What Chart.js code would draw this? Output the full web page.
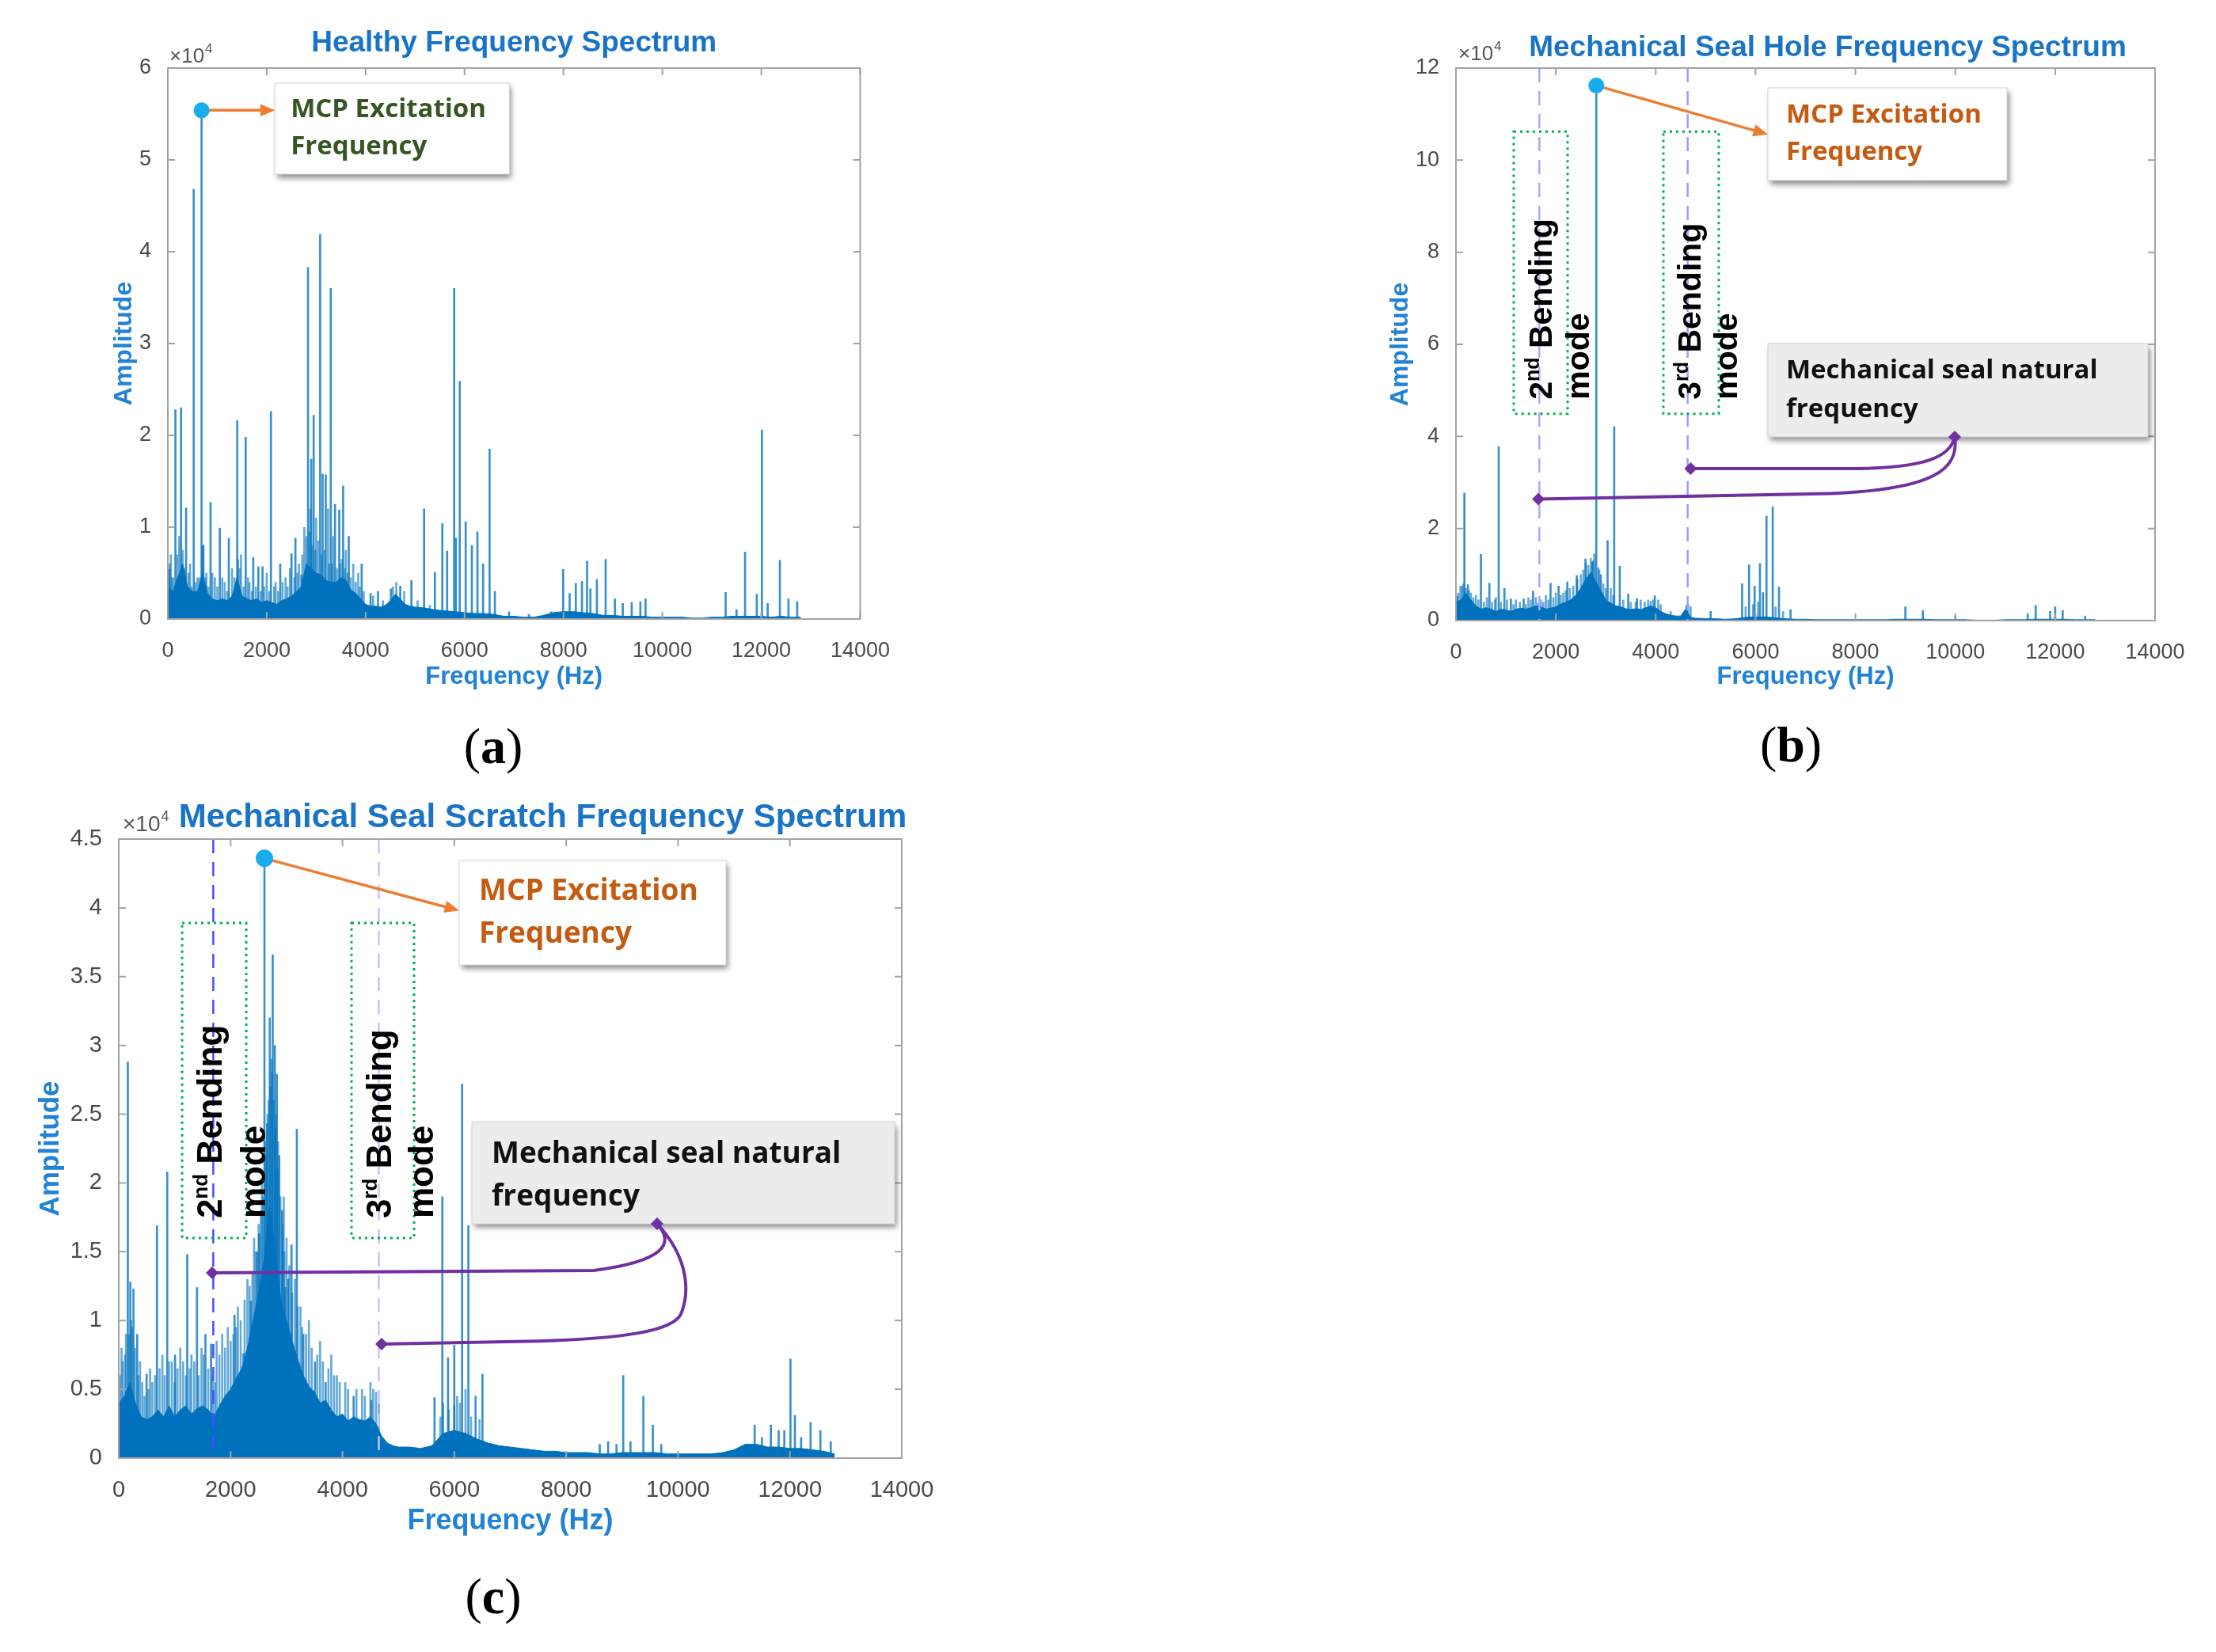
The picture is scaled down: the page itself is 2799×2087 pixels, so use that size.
<!DOCTYPE html>
<html>
<head>
<meta charset="utf-8">
<script src="https://cdn.jsdelivr.net/npm/chart.js@4.4.0/dist/chart.umd.min.js"></script>
<style>
  body { margin: 0; background: #fff; width: 2799px; height: 2087px; position: relative; overflow: hidden; }
  canvas { position: absolute; }
  .tag { position: absolute; transform: translate(-50%, -50%); font-family: "Liberation Serif", "DejaVu Serif", serif; font-size: 64px; color: #000; }
</style>
</head>
<body>
<canvas id="chartA"></canvas>
<canvas id="chartB"></canvas>
<canvas id="chartC"></canvas>
<div class="tag" style="left:623px;top:943px">(<b>a</b>)</div>
<div class="tag" style="left:2262px;top:941px">(<b>b</b>)</div>
<div class="tag" style="left:623px;top:2017px">(<b>c</b>)</div>
<script>
// ---- data (amplitudes in units of 10^4) ----
const xTicks = [0, 2000, 4000, 6000, 8000, 10000, 12000, 14000];
const yTicksA = [0, 1, 2, 3, 4, 5, 6];
const yTicksB = [0, 2, 4, 6, 8, 10, 12];
const yTicksC = [0, 0.5, 1, 1.5, 2, 2.5, 3, 3.5, 4, 4.5];

// frequencies (Hz) of the broadband floor, shared by the three spectra
const floorFreq = [0, 100, 200, 300, 400, 500, 600, 700, 800, 900,
  1000, 1100, 1200, 1300, 1400, 1500, 1600, 1700, 1800, 1900,
  2000, 2100, 2200, 2300, 2400, 2500, 2600, 2700, 2800, 2900,
  3000, 3100, 3200, 3300, 3400, 3500, 3600, 3700, 3800, 3900,
  4000, 4100, 4200, 4300, 4400, 4500, 4600, 4700, 4800, 4900,
  5000, 5200, 5400, 5600, 5800, 6000, 6200, 6400, 6600, 6800,
  7000, 7200, 7400, 7600, 7800, 8000, 8200, 8400, 8600, 8800,
  9000, 9200, 9400, 9600, 9800, 10000, 10200, 10400, 10600, 10800,
  11000, 11200, 11400, 11600, 11800, 12000, 12200, 12400, 12600, 12800];

// (a) healthy
const floorA = [0.35, 0.3, 0.45, 0.6, 0.35, 0.3, 0.3, 0.5, 0.28, 0.22,
  0.2, 0.22, 0.2, 0.25, 0.45, 0.25, 0.22, 0.2, 0.22, 0.18,
  0.2, 0.18, 0.16, 0.2, 0.22, 0.25, 0.3, 0.35, 0.6, 0.55,
  0.5, 0.48, 0.42, 0.4, 0.4, 0.45, 0.42, 0.32, 0.28, 0.22,
  0.16, 0.14, 0.14, 0.13, 0.15, 0.2, 0.27, 0.22, 0.16, 0.14,
  0.13, 0.12, 0.1, 0.09, 0.08, 0.07, 0.06, 0.06, 0.05, 0.03,
  0.03, 0.02, 0.02, 0.04, 0.07, 0.08, 0.08, 0.07, 0.06, 0.04,
  0.04, 0.03, 0.03, 0.03, 0.02, 0.02, 0.02, 0.02, 0.01, 0.01,
  0.02, 0.02, 0.03, 0.03, 0.03, 0.03, 0.02, 0.03, 0.02, 0.02];
const spikeFreqA = [23, 153, 267, 369, 523, 682, 720, 864, 1051, 1233, 1403, 1574, 1727, 1830, 1915,
  2085, 2273, 2500, 2580, 2700, 2835, 2900, 2949, 3080, 3130, 3193, 3295, 3380, 3466, 3545,
  3659, 3920, 4100, 4250, 4511, 4700, 4926, 5182, 5400, 5551, 5648, 5790, 5826, 5903, 6023,
  6148, 6261, 6375, 6506, 6614, 6900, 7300, 7750, 7994, 8125, 8250, 8375, 8477, 8545, 8676,
  8853, 9040, 9200, 9380, 9555, 9660, 11280, 11500, 11673, 11910, 12014, 12130, 12376, 12550, 12727];
const spikeAmpA = [0.54, 2.28, 2.3, 1.21, 4.68, 5.54, 0.8, 1.27, 0.99, 0.88, 2.16, 1.98, 0.67, 0.57, 0.57,
  2.26, 0.6, 0.71, 0.88, 0.48, 3.83, 1.74, 2.22, 4.19, 1.58, 1.57, 3.6, 1.25, 1.19, 1.45,
  0.9, 0.6, 0.28, 0.3, 0.33, 0.36, 0.42, 1.2, 0.51, 1.04, 0.74, 3.6, 0.88, 2.59, 1.06,
  0.8, 0.95, 0.6, 1.85, 0.3, 0.08, 0.05, 0.08, 0.54, 0.28, 0.39, 0.41, 0.63, 0.33, 0.43,
  0.65, 0.22, 0.17, 0.18, 0.19, 0.22, 0.29, 0.1, 0.73, 0.27, 2.06, 0.17, 0.64, 0.22, 0.19];
const grassFreqA = [40, 60, 80, 110, 190, 230, 300, 330, 420, 450, 480, 560, 600, 640, 700, 760, 780, 820,
  900, 950, 1000, 1100, 1150, 1200, 1300, 1350, 1420, 1450, 1480, 1530, 1620, 1650, 1700, 1780, 1880, 1950,
  2000, 2050, 2150, 2180, 2230, 2320, 2380, 2420, 2470, 2560, 2620, 2650, 2720, 2760, 2800, 2860, 2880, 2920,
  2980, 3000, 3040, 3110, 3170, 3240, 3260, 3320, 3340, 3420, 3480, 3520, 3580, 3600, 3640, 3700, 3750, 3800,
  3850, 3880, 3960, 4150, 4350, 4550, 4620, 4780, 5050, 5300];
const grassAmpA = [0.6, 0.7, 0.45, 0.45, 0.7, 0.9, 0.75, 0.55, 0.5, 0.6, 0.35, 0.4, 0.45, 0.45, 0.8, 0.45, 0.5, 0.35,
  0.5, 0.45, 0.35, 0.45, 0.4, 0.3, 0.55, 0.45, 0.65, 0.55, 0.7, 0.35, 0.45, 0.4, 0.3, 0.35, 0.3, 0.35,
  0.5, 0.3, 0.35, 0.4, 0.3, 0.4, 0.45, 0.35, 0.55, 0.45, 0.5, 0.6, 0.7, 1.0, 0.9, 0.95, 1.2, 0.8,
  0.75, 1.1, 0.85, 0.7, 0.75, 1.2, 0.6, 0.6, 0.9, 0.55, 0.6, 0.65, 0.55, 0.75, 0.5, 0.45, 0.6, 0.4,
  0.5, 0.35, 0.3, 0.25, 0.2, 0.35, 0.4, 0.3, 0.2, 0.15];
const peakIndexA = 5;

// (b) mechanical seal hole
const floorB = [0.4, 0.45, 0.6, 0.45, 0.32, 0.25, 0.28, 0.25, 0.2, 0.25,
  0.23, 0.2, 0.25, 0.27, 0.25, 0.28, 0.32, 0.3, 0.25, 0.27,
  0.3, 0.36, 0.4, 0.45, 0.55, 0.7, 0.9, 1.05, 0.85, 0.65,
  0.45, 0.38, 0.32, 0.3, 0.26, 0.24, 0.26, 0.24, 0.28, 0.32,
  0.28, 0.2, 0.15, 0.12, 0.1, 0.1, 0.25, 0.07, 0.05, 0.05,
  0.04, 0.04, 0.03, 0.04, 0.07, 0.08, 0.08, 0.06, 0.04, 0.03,
  0.03, 0.02, 0.02, 0.02, 0.02, 0.02, 0.02, 0.02, 0.02, 0.03,
  0.03, 0.03, 0.03, 0.02, 0.02, 0.02, 0.02, 0.01, 0.01, 0.01,
  0.02, 0.02, 0.02, 0.03, 0.03, 0.03, 0.03, 0.02, 0.02, 0.02];
const spikeFreqB = [25, 169, 240, 500, 669, 856, 970, 1100, 1356, 1545, 1650, 1894, 2056, 2231, 2419,
  2594, 2731, 2810, 2900, 3037, 3169, 3281, 3450, 3625, 3981, 4619, 5100, 5731, 5869, 5981,
  6088, 6150, 6219, 6344, 6469, 6700, 9000, 9350, 10000, 11450, 11610, 11900, 12000, 12150, 12600];
const spikeAmpB = [0.53, 2.77, 0.78, 1.44, 0.81, 3.78, 0.7, 0.47, 0.47, 0.64, 0.38, 0.81, 0.75, 0.84, 0.98,
  1.34, 1.27, 11.62, 1.0, 1.74, 4.21, 1.18, 0.58, 0.48, 0.54, 0.33, 0.2, 0.8, 1.21, 0.75,
  1.24, 0.61, 2.27, 2.47, 0.73, 0.24, 0.3, 0.22, 0.1, 0.15, 0.33, 0.2, 0.3, 0.22, 0.1];
const grassFreqB = [50, 90, 120, 150, 200, 260, 300, 350, 400, 450, 560, 620, 720, 780, 800, 900, 1020, 1150,
  1200, 1280, 1400, 1450, 1500, 1600, 1700, 1750, 1800, 1850, 1950, 2000, 2100, 2150, 2200, 2280, 2350, 2430,
  2500, 2550, 2600, 2650, 2700, 2750, 2770, 2850, 2870, 2950, 3000, 3100, 3150, 3350, 3500, 3600, 3700, 3780,
  3850, 3900, 3950, 4050, 4100, 4300, 4650, 4700, 5800, 5950, 6050, 6400, 6550];
const grassAmpB = [0.6, 0.75, 0.75, 0.8, 0.7, 0.65, 0.6, 0.5, 0.55, 0.45, 0.4, 0.5, 0.4, 0.45, 0.5, 0.4, 0.45, 0.35,
  0.45, 0.4, 0.35, 0.5, 0.45, 0.5, 0.45, 0.4, 0.55, 0.45, 0.5, 0.6, 0.55, 0.6, 0.65, 0.7, 0.75, 0.9,
  1.0, 1.1, 1.25, 1.2, 1.35, 1.3, 1.45, 1.15, 1.1, 0.8, 0.7, 0.7, 0.55, 0.45, 0.4, 0.4, 0.45, 0.4,
  0.45, 0.42, 0.45, 0.45, 0.35, 0.2, 0.35, 0.3, 0.3, 0.35, 0.4, 0.3, 0.2];
const peakIndexB = 17;

// (c) mechanical seal scratch
const floorC = [0.4, 0.45, 0.55, 0.4, 0.3, 0.28, 0.3, 0.35, 0.3, 0.38,
  0.3, 0.35, 0.38, 0.32, 0.36, 0.38, 0.35, 0.3, 0.38, 0.45,
  0.5, 0.58, 0.65, 0.8, 1.0, 1.2, 1.45, 1.85, 1.5, 1.15,
  1.0, 0.85, 0.72, 0.6, 0.52, 0.48, 0.4, 0.42, 0.35, 0.3,
  0.32, 0.27, 0.3, 0.28, 0.27, 0.3, 0.25, 0.16, 0.11, 0.09,
  0.08, 0.08, 0.07, 0.09, 0.18, 0.2, 0.18, 0.14, 0.11, 0.09,
  0.08, 0.07, 0.06, 0.05, 0.05, 0.04, 0.04, 0.04, 0.03, 0.03,
  0.04, 0.04, 0.04, 0.04, 0.03, 0.03, 0.03, 0.03, 0.03, 0.04,
  0.06, 0.1, 0.1, 0.08, 0.08, 0.07, 0.07, 0.06, 0.05, 0.03];
const spikeFreqC = [30, 95, 162, 207, 263, 330, 498, 683, 867, 1007, 1225, 1399, 1550, 1650, 2070,
  2230, 2361, 2473, 2512, 2605, 2652, 2700, 2753, 2790, 2826, 2870, 2920, 2977, 3030, 3089,
  3184, 3300, 3509, 3700, 4200, 4516, 5646, 5786, 5887, 5999, 6139, 6251, 6380, 6503, 8600,
  8750, 8900, 9020, 9150, 9380, 9550, 9700, 11370, 11500, 11660, 11800, 11900, 12010, 12090, 12200,
  12370, 12545, 12730];
const spikeAmpC = [0.35, 0.37, 2.88, 1.28, 1.23, 0.9, 0.61, 1.69, 2.08, 0.75, 1.48, 1.24, 0.9, 0.83, 1.04,
  0.76, 1.14, 1.5, 1.63, 4.36, 2.43, 3.2, 3.66, 3.0, 2.79, 2.2, 1.8, 1.24, 1.3, 1.55,
  2.39, 0.9, 0.7, 0.55, 0.45, 0.42, 0.44, 1.9, 0.73, 0.82, 2.72, 1.69, 0.45, 0.61, 0.1,
  0.12, 0.1, 0.6, 0.12, 0.45, 0.24, 0.1, 0.24, 0.15, 0.24, 0.2, 0.2, 0.72, 0.31, 0.15,
  0.26, 0.2, 0.12];
const grassFreqC = [20, 50, 70, 110, 130, 180, 220, 240, 290, 350, 380, 420, 460, 530, 560, 600, 650, 730,
  780, 820, 900, 950, 1000, 1050, 1100, 1150, 1200, 1270, 1300, 1350, 1430, 1480, 1520, 1600, 1680, 1720,
  1750, 1800, 1850, 1900, 1950, 2000, 2050, 2100, 2130, 2180, 2250, 2300, 2340, 2390, 2420, 2450, 2500, 2540,
  2560, 2580, 2620, 2640, 2660, 2680, 2710, 2730, 2740, 2770, 2800, 2810, 2840, 2850, 2890, 2930, 2950, 2960,
  3000, 3050, 3100, 3150, 3200, 3250, 3280, 3350, 3400, 3450, 3550, 3600, 3650, 3750, 3800, 3850, 3900, 3950,
  4050, 4100, 4250, 4350, 4400, 4500, 4550, 4600, 4650, 5750, 5800, 5900, 6000, 6050, 6100, 6200, 6300, 6450];
const grassAmpC = [0.6, 0.8, 0.7, 0.75, 0.9, 0.9, 1.0, 0.95, 0.8, 0.6, 0.7, 0.55, 0.45, 0.5, 0.65, 0.55, 0.6, 0.65,
  0.75, 0.6, 0.7, 0.7, 0.55, 0.65, 0.8, 0.7, 0.6, 0.65, 0.75, 0.7, 0.6, 0.8, 0.75, 0.65, 0.6, 0.55,
  0.85, 0.75, 0.9, 0.8, 0.95, 0.85, 0.9, 0.95, 1.1, 1.0, 1.15, 1.3, 1.25, 1.35, 1.6, 1.5, 1.7, 1.8,
  2.0, 1.9, 2.3, 2.2, 2.5, 2.6, 2.7, 2.9, 2.8, 2.6, 2.4, 2.5, 2.1, 2.3, 1.9, 1.7, 1.9, 1.5,
  1.6, 1.4, 1.2, 1.3, 1.1, 1.1, 0.95, 0.9, 1.0, 0.8, 0.75, 0.85, 0.7, 0.65, 0.75, 0.6, 0.6, 0.55,
  0.55, 0.5, 0.5, 0.5, 0.45, 0.55, 0.5, 0.48, 0.4, 0.3, 0.4, 0.35, 0.38, 0.45, 0.4, 0.5, 0.3, 0.28];
const peakIndexC = 19;

// bending-mode frequencies marked with dashed lines
const modeFreqB = [1670, 4640];
const modeFreqC = [1690, 4650];

const BLUE = '#0072BD';
const SANS = '"Liberation Sans", Arial, Helvetica, sans-serif';
const NOTE = '"Open Sans", Lato, sans-serif';

function pts(fs, as) { return fs.map((f, i) => ({ x: f, y: as[i] })); }

function fitFont(ctx, text, weight, family, targetW) {
  ctx.font = `${weight} 100px ${family}`;
  const s = Math.round(100 * targetW / ctx.measureText(text).width);
  return `${weight} ${s}px ${family}`;
}

function diamond(ctx, x, y, r) {
  ctx.beginPath();
  ctx.moveTo(x, y - r); ctx.lineTo(x + r, y); ctx.lineTo(x, y + r); ctx.lineTo(x - r, y);
  ctx.closePath(); ctx.fill();
}

function makeDecor(d) {
  return {
    id: 'decor',
    afterDatasetsDraw(chart) {
      const { ctx, chartArea: a } = chart;
      const xs = chart.scales.x, ys = chart.scales.y;
      ctx.save();
      (d.modes || []).forEach(m => {
        const X = xs.getPixelForValue(m.f);
        ctx.strokeStyle = m.color; ctx.lineWidth = 2.5; ctx.setLineDash([18, 11]);
        ctx.beginPath(); ctx.moveTo(X, a.top); ctx.lineTo(X, a.bottom); ctx.stroke();
      });
      ctx.setLineDash([]);
      ctx.strokeStyle = '#a3a3a3'; ctx.lineWidth = 2;
      ctx.strokeRect(a.left, a.top, a.width, a.height);
      const tl = 9;
      ctx.beginPath();
      xs.ticks.forEach(t => {
        const X = xs.getPixelForValue(t.value);
        ctx.moveTo(X, a.bottom); ctx.lineTo(X, a.bottom - tl);
        ctx.moveTo(X, a.top); ctx.lineTo(X, a.top + tl);
      });
      ys.ticks.forEach(t => {
        const Y = ys.getPixelForValue(t.value);
        ctx.moveTo(a.left, Y); ctx.lineTo(a.left + tl, Y);
        ctx.moveTo(a.right, Y); ctx.lineTo(a.right - tl, Y);
      });
      ctx.stroke();
      ctx.restore();
    },
    afterDraw(chart) {
      const { ctx, chartArea: a } = chart;
      const xs = chart.scales.x, ys = chart.scales.y;
      const X = f => xs.getPixelForValue(f), Y = v => ys.getPixelForValue(v);
      const cx = (a.left + a.right) / 2;
      ctx.save();
      // title and axis titles
      ctx.fillStyle = '#1a74c6'; ctx.textAlign = 'center'; ctx.textBaseline = 'middle';
      ctx.font = `bold ${d.title.size}px ${SANS}`;
      ctx.fillText(d.title.text, cx + d.title.dx, a.top + d.title.dy);
      ctx.fillStyle = '#2283d4';
      ctx.font = `bold ${d.xTitle.size}px ${SANS}`;
      ctx.fillText('Frequency (Hz)', cx, a.bottom + d.xTitle.dy);
      ctx.save();
      ctx.translate(a.left + d.yTitle.dx, (a.top + a.bottom) / 2); ctx.rotate(-Math.PI / 2);
      ctx.font = `bold ${d.yTitle.size}px ${SANS}`;
      ctx.fillText('Amplitude', 0, 0);
      ctx.restore();
      // x10^4 multiplier
      ctx.fillStyle = '#555'; ctx.textAlign = 'left'; ctx.textBaseline = 'alphabetic';
      ctx.font = `${d.exp.size}px ${SANS}`;
      const ex = a.left + d.exp.dx, ey = a.top + d.exp.dy;
      ctx.fillText('\u00d710', ex, ey);
      const ew = ctx.measureText('\u00d710').width;
      ctx.font = `${Math.round(d.exp.size * 0.65)}px ${SANS}`;
      ctx.fillText('4', ex + ew + 1, ey - d.exp.size * 0.45);

      // bending mode boxes and labels
      (d.modeBoxes || []).forEach(b => {
        ctx.strokeStyle = '#00b050'; ctx.lineWidth = 3; ctx.setLineDash([3, 5]);
        ctx.strokeRect(X(b.f0), Y(b.a1), X(b.f1) - X(b.f0), Y(b.a0) - Y(b.a1));
      });
      ctx.setLineDash([]);
      (d.modeLabels || []).forEach(m => {
        const main = `bold ${d.modeSize}px ${SANS}`;
        ctx.fillStyle = '#000'; ctx.textBaseline = 'middle'; ctx.textAlign = 'left';
        ctx.save();
        ctx.translate(X(m.f1), Y(m.a)); ctx.rotate(-Math.PI / 2);
        ctx.font = main; ctx.fillText(m.num, 0, 0);
        let w = ctx.measureText(m.num).width;
        ctx.font = `bold ${Math.round(d.modeSize * 0.6)}px ${SANS}`;
        ctx.fillText(m.sup, w, -d.modeSize * 0.3);
        w += ctx.measureText(m.sup).width;
        ctx.font = main; ctx.fillText(' Bending', w, 0);
        ctx.restore();
        ctx.save();
        ctx.translate(X(m.f2), Y(m.a)); ctx.rotate(-Math.PI / 2);
        ctx.font = main; ctx.fillText('mode', 0, 0);
        ctx.restore();
      });

      // note boxes
      (d.boxes || []).forEach(b => {
        const x0 = X(b.f0), y0 = Y(b.a1), w = X(b.f1) - x0, h = Y(b.a0) - y0;
        ctx.save();
        ctx.shadowColor = 'rgba(0,0,0,0.45)'; ctx.shadowBlur = 7; ctx.shadowOffsetX = 3; ctx.shadowOffsetY = 5;
        ctx.fillStyle = b.fill; ctx.fillRect(x0, y0, w, h);
        ctx.restore();
        ctx.strokeStyle = '#d6d6d6'; ctx.lineWidth = 1; ctx.strokeRect(x0, y0, w, h);
        ctx.font = fitFont(ctx, b.lines[0], 'bold', NOTE, b.fitW);
        ctx.fillStyle = b.color; ctx.textAlign = 'left'; ctx.textBaseline = 'middle';
        b.lines.forEach((t, i) => ctx.fillText(t, x0 + b.pad, y0 + b.ly[i]));
      });

      // excitation marker and arrow
      const pf = d.peak.f, pa = d.peak.a;
      const px = X(pf), py = Y(pa), tx = X(d.arrowTo.f), ty = Y(d.arrowTo.a);
      ctx.strokeStyle = '#ed7d31'; ctx.fillStyle = '#ed7d31'; ctx.lineWidth = 3.5;
      const ang = Math.atan2(ty - py, tx - px), hl = 20;
      ctx.beginPath(); ctx.moveTo(px, py); ctx.lineTo(tx - hl * 0.7 * Math.cos(ang), ty - hl * 0.7 * Math.sin(ang)); ctx.stroke();
      ctx.beginPath();
      ctx.moveTo(tx, ty);
      ctx.lineTo(tx - hl * Math.cos(ang - 0.4), ty - hl * Math.sin(ang - 0.4));
      ctx.lineTo(tx - hl * Math.cos(ang + 0.4), ty - hl * Math.sin(ang + 0.4));
      ctx.closePath(); ctx.fill();
      ctx.fillStyle = '#18acef';
      ctx.beginPath(); ctx.arc(px, py, d.dotR, 0, Math.PI * 2); ctx.fill();

      // natural-frequency pointers
      if (d.pointers) {
        ctx.strokeStyle = '#7030a0'; ctx.fillStyle = '#7030a0'; ctx.lineWidth = 4;
        const s = d.pointers.start;
        d.pointers.paths.forEach(p => {
          ctx.beginPath(); ctx.moveTo(X(s[0]), Y(s[1]));
          let last = s;
          p.forEach(seg => {
            if (seg[0] === 'C') { ctx.bezierCurveTo(X(seg[1]), Y(seg[2]), X(seg[3]), Y(seg[4]), X(seg[5]), Y(seg[6])); last = [seg[5], seg[6]]; }
            else { ctx.lineTo(X(seg[1]), Y(seg[2])); last = [seg[1], seg[2]]; }
          });
          ctx.stroke();
          diamond(ctx, X(last[0]), Y(last[1]), 8);
        });
        diamond(ctx, X(s[0]), Y(s[1]), 8);
      }
      ctx.restore();
    }
  };
}

function makeChart(id, p) {
  const el = document.getElementById(id);
  el.width = p.canvas.w; el.height = p.canvas.h;
  el.style.left = p.canvas.x + 'px'; el.style.top = p.canvas.y + 'px';
  const yAxisW = p.plot.L - p.canvas.x;
  const xAxisH = p.canvas.y + p.canvas.h - p.plot.B;
  const tickFont = { family: SANS, size: p.tickSize };
  return new Chart(el, {
    type: 'bar',
    data: {
      datasets: [
        { type: 'line', data: pts(floorFreq, p.floor), borderColor: BLUE, backgroundColor: BLUE,
          borderWidth: 1, fill: 'origin', pointRadius: 0, tension: 0, order: 0 },
        { type: 'bar', data: pts(p.spikeF, p.spikeA), backgroundColor: 'rgba(0,114,189,0.78)',
          barThickness: 2, borderWidth: 0, grouped: false, order: 1 },
        { type: 'bar', data: pts(p.grassF, p.grassA), backgroundColor: 'rgba(0,114,189,0.6)',
          barThickness: 2, borderWidth: 0, grouped: false, order: 2 }
      ]
    },
    options: {
      responsive: false, animation: false, devicePixelRatio: 1,
      layout: { padding: { left: 0, top: p.plot.T - p.canvas.y, right: p.canvas.x + p.canvas.w - p.plot.R, bottom: 0 } },
      plugins: { legend: { display: false }, tooltip: { enabled: false }, title: { display: false } },
      scales: {
        x: {
          type: 'linear', min: 0, max: 14000, offset: false,
          grid: { display: false }, border: { display: false },
          afterBuildTicks: s => { s.ticks = xTicks.map(v => ({ value: v })); },
          afterFit: s => { s.height = xAxisH; },
          ticks: { font: tickFont, color: '#4a4a4a', padding: 16, maxRotation: 0, autoSkip: false, callback: v => String(v) }
        },
        y: {
          min: 0, max: p.yTicks[p.yTicks.length - 1],
          grid: { display: false }, border: { display: false },
          afterBuildTicks: s => { s.ticks = p.yTicks.map(v => ({ value: v })); },
          afterFit: s => { s.width = yAxisW; },
          ticks: { font: tickFont, color: '#4a4a4a', padding: 13, callback: v => String(v) }
        }
      }
    },
    plugins: [makeDecor(p.decor)]
  });
}

makeChart('chartA', {
  canvas: { x: 60, y: 0, w: 1080, h: 892 }, plot: { L: 212, T: 86, R: 1092, B: 782 },
  tickSize: 27, yTicks: yTicksA, floor: floorA,
  spikeF: spikeFreqA, spikeA: spikeAmpA, grassF: grassFreqA, grassA: grassAmpA,
  decor: {
    title: { text: 'Healthy Frequency Spectrum', size: 37, dx: 0, dy: -31 },
    xTitle: { size: 31, dy: 73 }, yTitle: { size: 32, dx: -55 }, exp: { size: 26, dx: 2, dy: -7 },
    peak: { f: spikeFreqA[peakIndexA], a: spikeAmpA[peakIndexA] }, dotR: 10,
    arrowTo: { f: 2164, a: spikeAmpA[peakIndexA] },
    boxes: [{ f0: 2164, f1: 6905, a0: 4.845, a1: 5.836, fill: '#ffffff', color: '#375623',
      lines: ['MCP Excitation', 'Frequency'], fitW: 250, pad: 20, ly: [34, 81] }]
  }
});

makeChart('chartB', {
  canvas: { x: 1700, y: 0, w: 1099, h: 894 }, plot: { L: 1839, T: 86, R: 2722, B: 784 },
  tickSize: 27, yTicks: yTicksB, floor: floorB,
  spikeF: spikeFreqB, spikeA: spikeAmpB, grassF: grassFreqB, grassA: grassAmpB,
  decor: {
    title: { text: 'Mechanical Seal Hole Frequency Spectrum', size: 37, dx: 28, dy: -25 },
    xTitle: { size: 31, dy: 71 }, yTitle: { size: 32, dx: -70 }, exp: { size: 26, dx: 3, dy: -10 },
    peak: { f: spikeFreqB[peakIndexB], a: spikeAmpB[peakIndexB] }, dotR: 10,
    arrowTo: { f: 6247, a: 10.56 },
    modes: [{ f: modeFreqB[0], color: '#a8a8ff' }, { f: modeFreqB[1], color: '#9c9cff' }],
    modeBoxes: [{ f0: 1157, f1: 2236, a0: 4.49, a1: 10.62 }, { f0: 4154, f1: 5264, a0: 4.49, a1: 10.62 }],
    modeSize: 41,
    modeLabels: [{ num: '2', sup: 'nd', f1: 1744, f2: 2489, a: 4.8 }, { num: '3', sup: 'rd', f1: 4725, f2: 5454, a: 4.8 }],
    boxes: [
      { f0: 6247, f1: 11035, a0: 9.56, a1: 11.57, fill: '#ffffff', color: '#c55a11',
        lines: ['MCP Excitation', 'Frequency'], fitW: 248, pad: 23, ly: [35, 82] },
      { f0: 6247, f1: 13857, a0: 3.99, a1: 6.02, fill: '#ececec', color: '#111111',
        lines: ['Mechanical seal natural', 'frequency'], fitW: 391, pad: 23, ly: [35, 84] }
    ],
    pointers: {
      start: [9989, 3.99],
      paths: [
        [['C', 9900, 3.55, 9400, 3.32, 8000, 3.30], ['L', 4700, 3.30]],
        [['C', 10080, 3.3, 9600, 2.85, 7500, 2.76], ['L', 1650, 2.64]]
      ]
    }
  }
});

makeChart('chartC', {
  canvas: { x: 0, y: 990, w: 1200, h: 972 }, plot: { L: 150, T: 1060, R: 1139, B: 1842 },
  tickSize: 29, yTicks: yTicksC, floor: floorC,
  spikeF: spikeFreqC, spikeA: spikeAmpC, grassF: grassFreqC, grassA: grassAmpC,
  decor: {
    title: { text: 'Mechanical Seal Scratch Frequency Spectrum', size: 42, dx: 41, dy: -27 },
    xTitle: { size: 36, dy: 80 }, yTitle: { size: 35, dx: -86 }, exp: { size: 28, dx: 5, dy: -10 },
    peak: { f: spikeFreqC[peakIndexC], a: spikeAmpC[peakIndexC] }, dotR: 11,
    arrowTo: { f: 6087, a: 3.98 },
    modes: [{ f: modeFreqC[0], color: '#4b4bff' }, { f: modeFreqC[1], color: '#c4c4ff' }],
    modeBoxes: [{ f0: 1133, f1: 2279, a0: 1.6, a1: 3.89 }, { f0: 4162, f1: 5280, a0: 1.6, a1: 3.89 }],
    modeSize: 44,
    modeLabels: [{ num: '2', sup: 'nd', f1: 1670, f2: 2449, a: 1.743 }, { num: '3', sup: 'rd', f1: 4700, f2: 5450, a: 1.743 }],
    boxes: [
      { f0: 6087, f1: 10858, a0: 3.585, a1: 4.344, fill: '#ffffff', color: '#c55a11',
        lines: ['MCP Excitation', 'Frequency'], fitW: 277, pad: 25, ly: [39, 93] },
      { f0: 6314, f1: 13873, a0: 1.703, a1: 2.445, fill: '#ececec', color: '#111111',
        lines: ['Mechanical seal natural', 'frequency'], fitW: 436, pad: 25, ly: [41, 95] }
    ],
    pointers: {
      start: [9626, 1.703],
      paths: [
        [['C', 9952, 1.56, 9753, 1.43, 8494, 1.364], ['L', 1670, 1.346]],
        [['C', 10206, 1.45, 10206, 1.2, 10051, 1.047], ['C', 9900, 0.92, 9000, 0.87, 7500, 0.85], ['L', 4700, 0.829]]
      ]
    }
  }
});
</script>
</body>
</html>
